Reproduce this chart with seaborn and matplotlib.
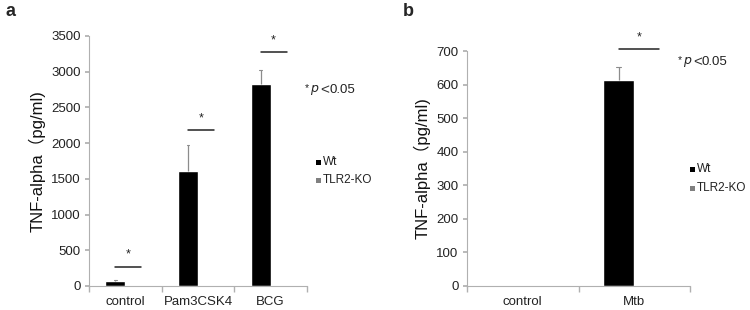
import matplotlib
matplotlib.use("Agg")
import matplotlib.pyplot as plt
import seaborn as sns
import pandas as pd
import numpy as np
from matplotlib.patches import Rectangle

sns.set_theme(style="white")
plt.rcParams['font.family'] = ['Liberation Sans', 'Noto Sans CJK JP', 'DejaVu Sans']

# Panel a data
a_categories = ["control", "Pam3CSK4", "BCG"]
a_wt = [70, 1615, 2825]
a_wt_err = [20, 365, 200]
a_ko = [0, 0, 0]
a_sig_y = [270, 2180, 3270]
a_yticks = [0, 500, 1000, 1500, 2000, 2500, 3000, 3500]

# Panel b data
b_categories = ["control", "Mtb"]
b_wt = [0, 615]
b_wt_err = [0, 38]
b_ko = [0, 0]
b_sig_y = [None, 706]
b_yticks = [0, 100, 200, 300, 400, 500, 600, 700]

groups = ["Wt", "TLR2-KO"]
colors = {"Wt": "#000000", "TLR2-KO": "#808080"}
ylabel = "TNF-alpha（pg/ml)"

fig = plt.figure(figsize=(7.5, 3.1), dpi=100)
ax_a = fig.add_axes([89/750, 24/310, 218/750, 250/310])
ax_b = fig.add_axes([467/750, 24/310, 223/750, 235/310])


def draw(ax, cats, wt, err, ko, sig_y, yticks, width):
    df = pd.DataFrame({
        "cat": list(cats) * 2,
        "group": ["Wt"] * len(cats) + ["TLR2-KO"] * len(cats),
        "val": list(wt) + list(ko),
    })
    sns.barplot(data=df, x="cat", y="val", hue="group", order=cats,
                hue_order=groups, palette=colors, width=width,
                errorbar=None, ax=ax, legend=False, saturation=1)
    wt_patches = ax.patches[:len(cats)]
    ko_patches = ax.patches[len(cats):2 * len(cats)]
    for p, v, e in zip(wt_patches, wt, err):
        if e > 0:
            xc = p.get_x() + p.get_width() / 2
            ax.plot([xc, xc], [v, v + e], color="#8c8c8c", lw=0.9,
                    solid_capstyle="butt", zorder=1)
            ax.plot([xc - 0.02, xc + 0.02], [v + e, v + e], color="#8c8c8c",
                    lw=0.8, zorder=1)
    for pw, pk, s in zip(wt_patches, ko_patches, sig_y):
        if s is None:
            continue
        x0 = pw.get_x() + pw.get_width() / 2
        x1 = pk.get_x() + pk.get_width() * 0.8
        ax.plot([x0, x1], [s, s], color="#222222", lw=1.1, clip_on=False)
        ax.text((x0 + x1) / 2, s + (yticks[-1]) * 0.025, "*", ha="center",
                va="bottom", fontsize=9, color="#222222", clip_on=False)
    ax.set_ylim(yticks[0], yticks[-1])
    ax.set_yticks(yticks)
    ax.set_xlim(-0.5, len(cats) - 0.5)
    ax.set_xlabel("")
    ax.set_ylabel(ylabel, fontsize=12, color="#111111", labelpad=4)
    ax.tick_params(axis="y", labelsize=9.5, length=3, color="#b0b0b0",
                   direction="out", left=True, labelcolor="#222222", pad=3)
    ax.tick_params(axis="x", which="major", labelsize=9.5, length=0,
                   labelcolor="#222222", pad=7)
    ax.set_xticks(np.arange(-0.5, len(cats)), minor=True)
    ax.tick_params(axis="x", which="minor", length=4, color="#b0b0b0",
                   direction="out", bottom=True)
    for s in ["top", "right"]:
        ax.spines[s].set_visible(False)
    for s in ["left", "bottom"]:
        ax.spines[s].set_color("#b0b0b0")
        ax.spines[s].set_linewidth(0.8)


draw(ax_a, a_categories, a_wt, a_wt_err, a_ko, a_sig_y, a_yticks, 0.55)
draw(ax_b, b_categories, b_wt, b_wt_err, b_ko, b_sig_y, b_yticks, 0.56)


def legend(x, y_wt, y_ko):
    for yy, g in ((y_wt, "Wt"), (y_ko, "TLR2-KO")):
        fig.add_artist(Rectangle((x / 750, 1 - (yy + 2.5) / 310), 5 / 750, 5 / 310,
                                 transform=fig.transFigure, color=colors[g], lw=0))
        fig.text((x + 6.5) / 750, 1 - yy / 310, g, fontsize=8.5, color="#222222",
                 ha="left", va="center")


legend(316, 162, 180)
legend(690, 169, 188)


def ptext(x, y):
    fig.text(x / 750, 1 - (y - 2) / 310, "*", fontsize=7.5, ha="left", va="center",
             color="#222222")
    fig.text((x + 5) / 750, 1 - y / 310, "$\\it{p}$", fontsize=9, ha="left",
             va="center", color="#222222")
    fig.text((x + 15) / 750, 1 - y / 310, "<", fontsize=11, ha="left",
             va="center", color="#333333")
    fig.text((x + 24) / 750, 1 - y / 310, "0.05", fontsize=9.5, ha="left",
             va="center", color="#222222")


ptext(305, 90)
ptext(678, 62)

fig.text(6 / 750, 1 - 12 / 310, "a", fontsize=13, fontweight="bold",
         ha="left", va="center")
fig.text(403 / 750, 1 - 12 / 310, "b", fontsize=13, fontweight="bold",
         ha="left", va="center")

fig.savefig("out.png", dpi=100)
